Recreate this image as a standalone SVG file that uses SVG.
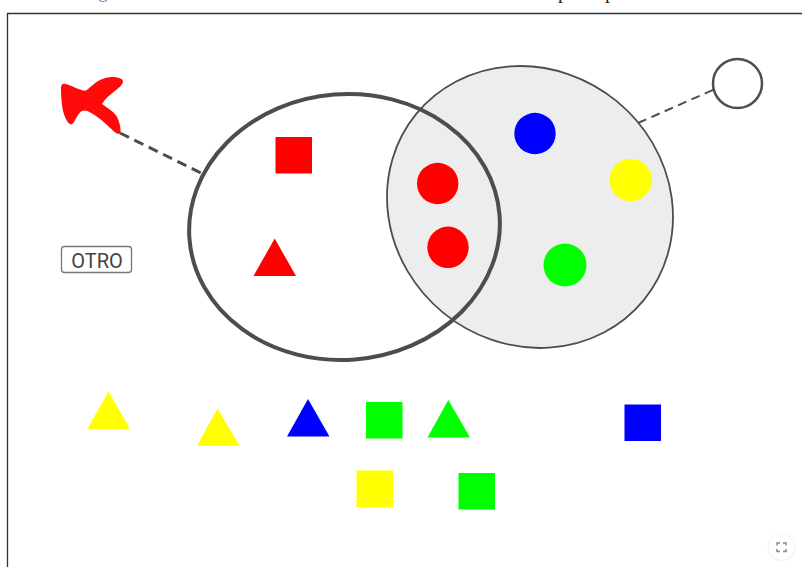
<svg xmlns="http://www.w3.org/2000/svg" width="802" height="567" viewBox="0 0 802 567">
<style>
.dash{fill:none;stroke:#4d4d4d}
.edge{stroke:#333;fill:none}
.top{font-family:"Liberation Serif","Times New Roman",serif;font-size:20px;fill:#222}
.otro{font-family:Roboto,"Liberation Sans",Arial,sans-serif;font-size:20px;fill:#444}
</style>
<rect width="802" height="567" fill="#fff"/>
<text class="top" x="98" y="-3" style="fill:#6d8cc4">g</text>
<text class="top" x="558" y="-2">p</text>
<text class="top" x="605" y="-2">p</text>
<path d="M7.500 567V13.500H802" class="edge" stroke-width="1.300"/>
<g id="connectors">
<path d="M120 133L201 173" class="dash" stroke-width="3" stroke-dasharray="10 6"/>
<path d="M638 123L714 89.500" class="dash" stroke-width="2" stroke-dasharray="9 5.600"/>
</g>
<g id="set-b"><ellipse cx="530" cy="207" rx="147" ry="136.800" transform="rotate(39.300 530 207)" fill="#ededed" stroke="#4d4d4d" stroke-width="1.800"/></g>
<g id="set-a"><ellipse cx="344.500" cy="227" rx="155.500" ry="132.800" transform="rotate(-4.500 344.500 227)" fill="none" stroke="#4d4d4d" stroke-width="4"/></g>
<g id="blob"><path d="M61 88C61 84 63 83 66 84C70 85 73 87 77 88.500C81 90 84 91 86 90.500C90 88 94 83 100 80C105 77.500 110 76.500 114 77C119 77.500 123 79 123 81.500C123 84 120 87 116 90C110 94.500 105 99 102 104C107 107.500 113 111 116.500 116C119 120 121 128 120.500 132C120 135 117 134 114 131.500C108 126 100 118 93 114C89 111.500 85 109.500 82 111C78 113.500 76 119 74 122C72 125 70 125 68 122.500C64 117 62 108 61.500 100C61 95 61 91 61 88Z" fill="#ff0a0a"/></g>
<g id="circle-empty"><circle cx="737.500" cy="83.500" r="24.500" fill="#fff" stroke="#4d4d4d" stroke-width="2.500"/></g>
<g id="square-red"><rect x="275.500" y="137" width="36.500" height="36.500" fill="#f00"/></g>
<g id="triangle-red"><path d="M274.700 238.500L296 276H253.500Z" fill="#f00"/></g>
<g id="circle-red-1"><circle cx="437.700" cy="183.500" r="20.700" fill="#f00"/></g>
<g id="circle-red-2"><circle cx="448" cy="247.300" r="20.700" fill="#f00"/></g>
<g id="circle-blue"><circle cx="535" cy="133.500" r="20.700" fill="#00f"/></g>
<g id="circle-yellow"><circle cx="630.700" cy="180" r="21.200" fill="#ff0"/></g>
<g id="circle-green"><circle cx="565" cy="265" r="21.500" fill="#0f0"/></g>
<g id="otro"><rect x="61.500" y="246.500" width="70" height="26" rx="3" fill="#fff" stroke="#777" stroke-width="1.300"/><text class="otro" x="97" y="267.500" text-anchor="middle">OTRO</text></g>
<g id="triangle-yellow-1"><path d="M108.500 391.500L130 429H87.500Z" fill="#ff0"/></g>
<g id="triangle-yellow-2"><path d="M217.500 408.500L239.500 445.700H197Z" fill="#ff0"/></g>
<g id="triangle-blue"><path d="M308 399L329.500 436.500H287Z" fill="#00f"/></g>
<g id="square-green-1"><rect x="366" y="402" width="36.500" height="36.500" fill="#0f0"/></g>
<g id="triangle-green"><path d="M448.300 400L470 437.500H427.500Z" fill="#0f0"/></g>
<g id="square-blue"><rect x="624.500" y="404.500" width="36.500" height="36.500" fill="#00f"/></g>
<g id="square-yellow"><rect x="356.500" y="470.500" width="36.500" height="36.500" fill="#ff0"/></g>
<g id="square-green-2"><rect x="458.500" y="473" width="36.500" height="36.500" fill="#0f0"/></g>
<g id="fullscreen"><circle cx="781.500" cy="547.500" r="14" fill="#000" opacity=".04"/><circle cx="781.500" cy="547" r="12.500" fill="#fff"/><path d="M777 545.500V543H780M783 543H786V545.500M786 549V551.500H783M780 551.500H777V549" fill="none" stroke="#888" stroke-width="1.500"/></g>
</svg>
